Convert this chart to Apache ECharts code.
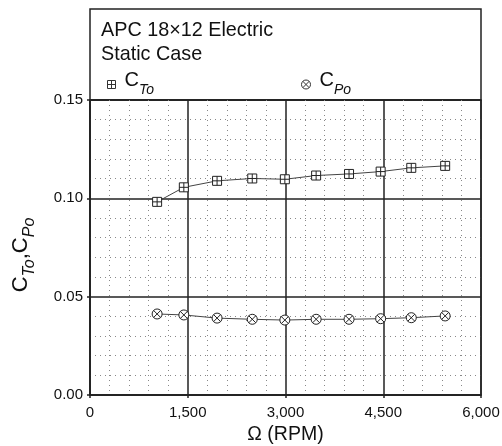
<!DOCTYPE html>
<html><head><meta charset="utf-8">
<script src="https://cdn.jsdelivr.net/npm/echarts@6/dist/echarts.min.js"></script>
<style>html,body{margin:0;padding:0;background:#fff}#c{width:502px;height:446px}</style>
</head><body><div id="c"></div>
<script>
const rpm = [1030, 1440, 1950, 2490, 2990, 3470, 3975, 4460, 4930, 5450];
const ctValues = [0.0982, 0.1056, 0.1089, 0.1101, 0.1097, 0.1116, 0.1124, 0.1136, 0.1155, 0.1165];
const cpValues = [0.0412, 0.0407, 0.0391, 0.0385, 0.0381, 0.0385, 0.0385, 0.0388, 0.0393, 0.0402];
const titleLines = ['APC 18\u00d712 Electric', 'Static Case'];
const seriesNames = ['CTo', 'CPo'];

const FONT = 'Liberation Sans, Arial, sans-serif';
const SQ = 'path://M0,0L10,0L10,10L0,10Z M5,0L5,10 M0,5L10,5';
const CX = 'path://M10,5A5,5,0,1,1,0,5A5,5,0,1,1,10,5Z M1.46,1.46L8.54,8.54 M8.54,1.46L1.46,8.54';
const legendRich = {
  c: {fontSize: 20, fontFamily: FONT, color: '#111', padding: [0, 0, 9, 4]},
  s: {fontSize: 14, fontFamily: FONT, fontStyle: 'italic', color: '#111', padding: [20, 0, 9, 0]}
};
const nameRich = {
  c: {fontSize: 22, fontFamily: FONT, color: '#111'},
  s: {fontSize: 16, fontFamily: FONT, fontStyle: 'italic', color: '#111', padding: [18, 0, 0, 0]},
  m: {fontSize: 22, fontFamily: FONT, color: '#111'},
  e: {fontSize: 16, fontFamily: FONT, fontStyle: 'italic', color: '#111', padding: [18, 15, 0, 0]}
};
function subLabel(name){ return '{c|C}{s|' + name.slice(1) + '}'; }

const chart = echarts.init(document.getElementById('c'), null, {renderer: 'canvas'});
chart.setOption({
  animation: false,
  backgroundColor: '#fff',
  textStyle: {fontFamily: FONT},
  title: {
    text: titleLines.join('\n'), left: 101, top: 19, padding: 0,
    textStyle: {fontSize: 19.8, fontWeight: 'normal', color: '#111', lineHeight: 24, fontFamily: FONT}
  },
  graphic: [{
    type: 'rect', shape: {x: 90, y: 9, width: 391, height: 91},
    style: {fill: 'none', stroke: '#222', lineWidth: 1.5}, silent: true
  }],
  legend: [
    {data: [seriesNames[0]], left: 107, top: 70, padding: 0, icon: SQ, itemWidth: 8, itemHeight: 8, itemGap: 0,
     itemStyle: {color: '#fff', borderColor: '#333', borderWidth: 1},
     formatter: subLabel, textStyle: {rich: legendRich}},
    {data: [seriesNames[1]], left: 301, top: 70, padding: 0, icon: CX, itemWidth: 9, itemHeight: 9, itemGap: 0,
     itemStyle: {color: '#fff', borderColor: '#333', borderWidth: 1},
     formatter: subLabel, textStyle: {rich: legendRich}}
  ],
  grid: {left: 90, right: 21, top: 100, bottom: 51, show: true, borderColor: '#222', borderWidth: 1.5,
         outerBoundsMode: 'none', containLabel: false},
  xAxis: {
    type: 'value', min: 0, max: 6000, interval: 1500,
    name: '\u03a9 (RPM)', nameLocation: 'middle', nameGap: 25,
    nameTextStyle: {fontSize: 19.5, color: '#111', fontFamily: FONT},
    axisLine: {show: true, lineStyle: {color: '#222', width: 1.5}},
    axisTick: {show: true, length: 3, lineStyle: {color: '#222', width: 1.5}},
    axisLabel: {fontSize: 15, color: '#111', margin: 10, fontFamily: FONT,
      formatter: v => String(v).replace(/\B(?=(\d{3})+(?!\d))/g, ',')},
    splitLine: {show: true, lineStyle: {color: '#222', width: 1.5}},
    minorTick: {show: false, splitNumber: 5},
    minorSplitLine: {show: true, lineStyle: {color: '#888', width: 1, type: [1, 4]}}
  },
  yAxis: {
    type: 'value', min: 0, max: 0.15, interval: 0.05,
    name: '{c|C}{s|To}{m|,}{c|C}{e|Po}', nameLocation: 'middle', nameGap: 52, nameRotate: 90,
    nameTextStyle: {rich: nameRich},
    axisLine: {show: true, lineStyle: {color: '#222', width: 1.5}},
    axisTick: {show: true, length: 3, lineStyle: {color: '#222', width: 1.5}},
    axisLabel: {fontSize: 15, color: '#111', margin: 7, fontFamily: FONT, formatter: v => v.toFixed(2)},
    splitLine: {show: true, lineStyle: {color: '#222', width: 1.5}},
    minorTick: {show: false, splitNumber: 5},
    minorSplitLine: {show: true, lineStyle: {color: '#888', width: 1, type: [1, 4]}}
  },
  series: [
    {name: seriesNames[0], type: 'line', data: rpm.map((x, i) => [x, ctValues[i]]),
     symbol: SQ, symbolSize: 9, showAllSymbol: true,
     lineStyle: {color: '#444', width: 1}, itemStyle: {color: '#fff', borderColor: '#222', borderWidth: 1}},
    {name: seriesNames[1], type: 'line', data: rpm.map((x, i) => [x, cpValues[i]]),
     symbol: CX, symbolSize: 10, showAllSymbol: true,
     lineStyle: {color: '#444', width: 1}, itemStyle: {color: '#fff', borderColor: '#222', borderWidth: 1}}
  ]
});
</script></body></html>
